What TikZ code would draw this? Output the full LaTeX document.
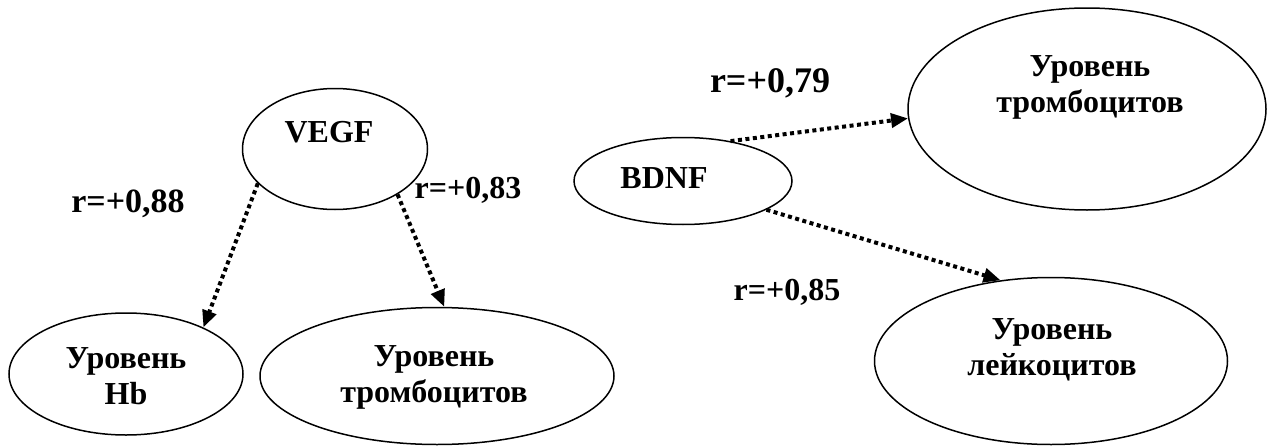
\documentclass[tikz,border=0pt]{standalone}
\usepackage{fontspec}
\setmainfont{Liberation Serif}
\usetikzlibrary{shapes,arrows.meta}
\tikzset{
  corrEll/.style = {ellipse, draw=black, line width=1.5pt, inner sep=0pt},
  ell_txt/.style = {align=center, inner sep=0pt, anchor=north,
    font=\bfseries\fontsize{32}{36}\selectfont},
  rLab/.style = {anchor=base, inner sep=0pt,
    font=\bfseries\fontsize{#1}{#1}\selectfont},
  corrArr/.style = {-{Triangle[length=17pt,width=14pt]}, line width=4pt,
    dash pattern=on 4pt off 3.5pt}
    % dotted arrow for a correlation
}

\begin{document}
\begin{tikzpicture}[x=1pt,y=-1pt]
\useasboundingbox (0,0) rectangle (1267,447);

% ellipses
\node[corrEll, minimum width=185pt, minimum height=121pt] (vegf) at (335,149) {};
\node[corrEll, minimum width=218pt, minimum height=87pt] (bdnf) at (683,181) {};
\node[corrEll, minimum width=234pt, minimum height=122pt] (hb) at (126,374) {};
\node[corrEll, minimum width=354pt, minimum height=137pt] (ltromb) at (437,376) {};
\node[corrEll, minimum width=358pt, minimum height=202pt] (rtromb) at (1087,109) {};
\node[corrEll, minimum width=353pt, minimum height=167pt] (leuk) at (1051,361) {};

% texts inside
\node[ell_txt] (vegf_t) at (329,121) {VEGF};
\node[ell_txt] (bdnf_t) at (664,167) {BDNF};
\node[ell_txt] (hb_t) at (126,347) {Уровень\\Hb};
\node[ell_txt] (ltromb_t) at (434,345) {Уровень\\тромбоцитов};
\node[ell_txt] (rtromb_t) at (1090,55) {Уровень\\тромбоцитов};
\node[ell_txt] (leuk_t) at (1052,318) {Уровень\\лейкоцитов};

% correlations
\draw[corrArr] (vegf.204) -- (hb.31);
\draw[corrArr] (vegf.324) -- (ltromb.84);
\draw[corrArr] (bdnf.40) -- (rtromb.183);
\draw[corrArr] (bdnf.341) -- (leuk.122);

\node[rLab=34] (r88) at (128,212) {r=+0,88};
\node[rLab=32] (r83) at (468,198) {r=+0,83};
\node[rLab=36] (r79) at (770,92) {r=+0,79};
\node[rLab=32] (r85) at (787,300) {r=+0,85};
\end{tikzpicture}
\end{document}
